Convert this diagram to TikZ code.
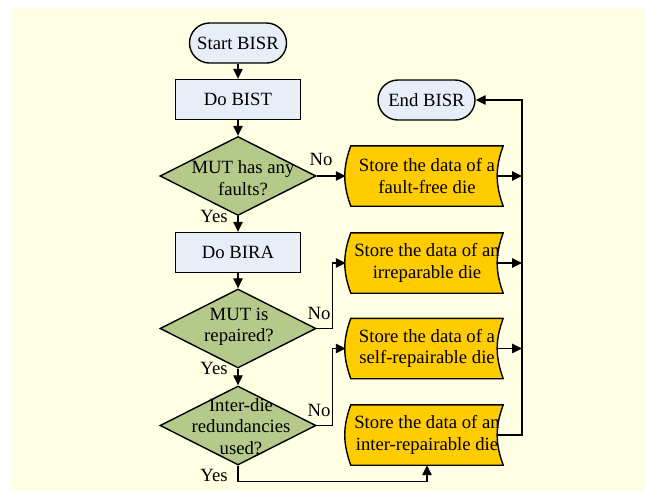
\documentclass[tikz,border=0pt]{standalone}
\usepackage{fontspec}
\setmainfont{Liberation Serif}
\usetikzlibrary{shapes.geometric,arrows.meta,calc}
\definecolor{bgyel}{HTML}{FFFFE4}
\definecolor{termfill}{HTML}{E8EEF8}
\definecolor{decfill}{HTML}{B4C98A}
\definecolor{storefill}{HTML}{FFCC00}
\pgfdeclarelayer{bg}\pgfdeclarelayer{shp}\pgfsetlayers{bg,shp,main}
\tikzset{
 txt/.style={font=\fontsize{18.7}{21.5}\selectfont, align=center, inner sep=0pt},
 term/.style={txt, draw, line width=1.4pt, fill=termfill, rounded corners=20pt, minimum width=97pt, minimum height=40pt},
 proc/.style={txt, draw, line width=1.4pt, fill=termfill, minimum width=125pt, minimum height=40pt},
 dec/.style={diamond, draw, line width=1.4pt, fill=decfill, inner sep=0pt, minimum width=156pt, minimum height=79pt},
 store/.style={txt, minimum width=152pt, minimum height=60pt},
 storeshape/.style={draw, line width=1.4pt, fill=storefill},
 arr/.style={line width=1.2pt, -{Triangle[length=10pt,width=9.5pt]}},
 lbl/.style={txt}
}
\begin{document}
\begin{tikzpicture}[x=1pt,y=-1pt]
\useasboundingbox (0,0) rectangle (645,491);
\begin{pgfonlayer}{bg}\fill[bgyel] (12,9) rectangle (645,491);\end{pgfonlayer}
\node[term] (start) at (238,43) {Start BISR};
\node[proc] (bist) at (238,99.5) {Do BIST};
\node[dec] (d1) at (238,176) {};
\node[txt] (d1t) at (243,178) {MUT has any\\faults?};
\node[proc] (bira) at (238,252.5) {Do BIRA};
\node[dec] (d2) at (238,328.5) {};
\node[txt] (d2t) at (239,327) {MUT is\\repaired?};
\node[dec] (d3) at (238,425.5) {};
\node[txt] (d3t) at (241,426.5) {Inter-die\\redundancies\\used?};
\node[term] (end) at (426.5,100) {End BISR};
\node[store] (b1) at (427,176) {Store the data of a\\fault-free die};
\node[store] (b2) at (427,263) {Store the data of an\\irreparable die};
\node[store] (b3) at (427,348.5) {Store the data of a\\self-repairable die};
\node[store] (b4) at (427,435) {Store the data of an\\inter-repairable die};
\begin{pgfonlayer}{shp}
\foreach \b in {b1,b2,b3,b4}
 \draw[storeshape] (\b.north west) -- (\b.north east) to[bend right=20] (\b.south east) -- (\b.south west) to[bend left=20] (\b.north west) -- cycle;
\end{pgfonlayer}
\coordinate (rtop) at (522,100);
\draw[arr] (start) -- (bist);
\draw[arr] (bist) -- (d1);
\draw[arr] (d1.east) -- ([xshift=-5pt]b1.west);
\draw[arr] (d1.south) -- (bira.north);
\draw[arr] (bira) -- (d2);
\draw[arr] (d2) -- (d3);
\draw[arr] (d2.east) -- ++(16,0) |- ([xshift=-5pt]b2.west);
\draw[arr] (d3.east) -- ++(16,0) |- ([xshift=-5pt]b3.west);
\draw[arr] (d3.south) -- ++(0,16) -| (b4.south);
\draw[arr] ([xshift=-6pt]b1.east) -- (b1.east -| rtop);
\draw[arr] ([xshift=-6pt]b2.east) -- (b2.east -| rtop);
\draw[arr] ([xshift=-6pt]b3.east) -- (b3.east -| rtop);
\draw[arr] ([xshift=-6pt]b4.east) -- (b4.east -| rtop) -- (rtop) -- (end.east);
\node[lbl] (no1) at (321,159) {No};
\node[lbl] (yes1) at (214,216) {Yes};
\node[lbl] (no2) at (319,313) {No};
\node[lbl] (yes2) at (214,368) {Yes};
\node[lbl] (no3) at (319,410) {No};
\node[lbl] (yes3) at (214,475) {Yes};
\end{tikzpicture}
\end{document}
